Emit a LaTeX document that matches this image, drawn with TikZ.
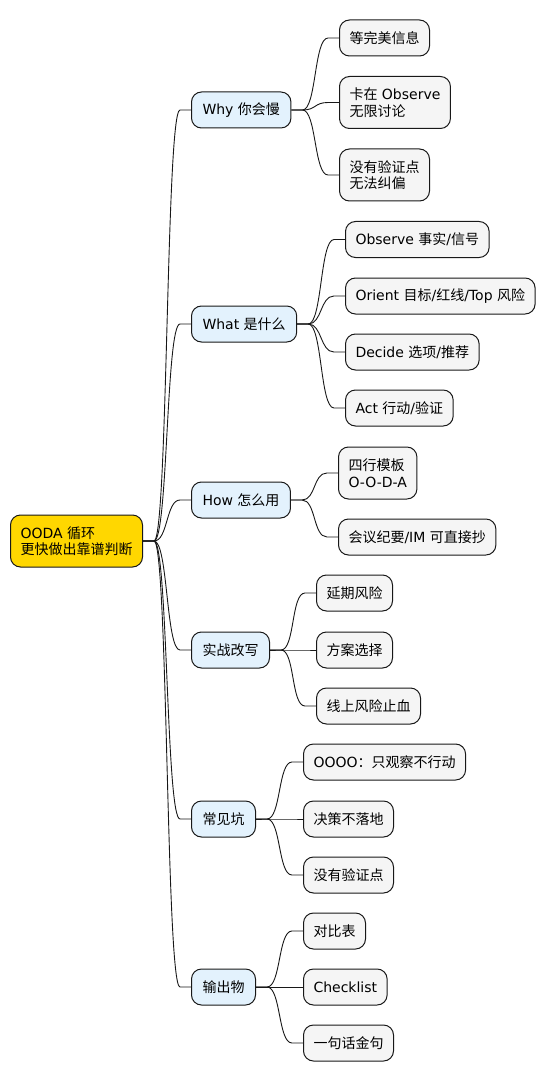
\documentclass[tikz,border=0pt]{standalone}
\usepackage{fontspec}
\setmainfont{DejaVu Sans}
\newfontfamily\cjkfont{Noto Sans CJK SC}
\newcommand\zh[1]{{\cjkfont #1}}
\definecolor{rootfill}{HTML}{FFD700}
\definecolor{lonefill}{HTML}{E3F2FD}
\definecolor{ltwofill}{HTML}{F5F5F5}
\definecolor{edgecol}{HTML}{181818}
\tikzset{
  box/.style={draw=edgecol, line width=1pt, rounded corners=10pt, anchor=west,
    align=left, inner xsep=10pt, inner ysep=4pt, minimum height=36pt,
    font=\fontsize{14pt}{16.5pt}\selectfont},
  tall/.style={minimum height=52pt},
  rootbox/.style={box, tall, fill=rootfill},
  lone/.style={box, fill=lonefill, inner xsep=11pt},
  ltwo/.style={box, fill=ltwofill},
  edge/.style={draw=edgecol, line width=0.9pt}
}
\newcommand\conn[2]{\draw[edge] (#1.east) -- ++(11,0) .. controls +(14,0) and +(-14,0) .. ([xshift=-11]#2.west) -- (#2.west);}
\begin{document}
\begin{tikzpicture}[x=1pt,y=-1pt]
\useasboundingbox (0,0) rectangle (548,1083);
\node[rootbox] (r) at (10,541) {OODA \zh{循环}\\\zh{更快做出靠谱判断}};
% level 1
\node[lone] (why) at (191,110) {Why \zh{你会慢}};
\node[lone] (what) at (191,324) {What \zh{是什么}};
\node[lone] (how) at (191,500) {How \zh{怎么用}};
\node[lone] (prac) at (191,650) {\zh{实战改写}};
\node[lone] (pit) at (191,819) {\zh{常见坑}};
\node[lone] (out) at (191,987) {\zh{输出物}};
% level 2
\node[ltwo] (w1) at (339,38) {\zh{等完美信息}};
\node[ltwo,tall] (w2) at (339,102.5) {\zh{卡在} Observe\\\zh{无限讨论}};
\node[ltwo,tall] (w3) at (339,175) {\zh{没有验证点}\\\zh{无法纠偏}};
\node[ltwo] (a1) at (345,239.5) {Observe \zh{事实}/\zh{信号}};
\node[ltwo] (a2) at (345,296) {Orient \zh{目标}/\zh{红线}/Top \zh{风险}};
\node[ltwo] (a3) at (345,352) {Decide \zh{选项}/\zh{推荐}};
\node[ltwo] (a4) at (345,408) {Act \zh{行动}/\zh{验证}};
\node[ltwo,tall] (h1) at (338,473) {\zh{四行模板}\\O-O-D-A};
\node[ltwo] (h2) at (338,537) {\zh{会议纪要}/IM \zh{可直接抄}};
\node[ltwo] (s1) at (316,593) {\zh{延期风险}};
\node[ltwo] (s2) at (316,650) {\zh{方案选择}};
\node[ltwo] (s3) at (316,706) {\zh{线上风险止血}};
\node[ltwo] (p1) at (303,762) {OOOO\zh{：只观察不行动}};
\node[ltwo] (p2) at (303,819) {\zh{决策不落地}};
\node[ltwo] (p3) at (303,875) {\zh{没有验证点}};
\node[ltwo] (o1) at (303,931) {\zh{对比表}};
\node[ltwo] (o2) at (303,987) {Checklist};
\node[ltwo] (o3) at (303,1043) {\zh{一句话金句}};
% connectors
\foreach \c in {why,what,how,prac,pit,out} {\conn{r}{\c}}
\foreach \c in {w1,w2,w3} {\conn{why}{\c}}
\foreach \c in {a1,a2,a3,a4} {\conn{what}{\c}}
\foreach \c in {h1,h2} {\conn{how}{\c}}
\foreach \c in {s1,s2,s3} {\conn{prac}{\c}}
\foreach \c in {p1,p2,p3} {\conn{pit}{\c}}
\foreach \c in {o1,o2,o3} {\conn{out}{\c}}
\end{tikzpicture}
\end{document}
